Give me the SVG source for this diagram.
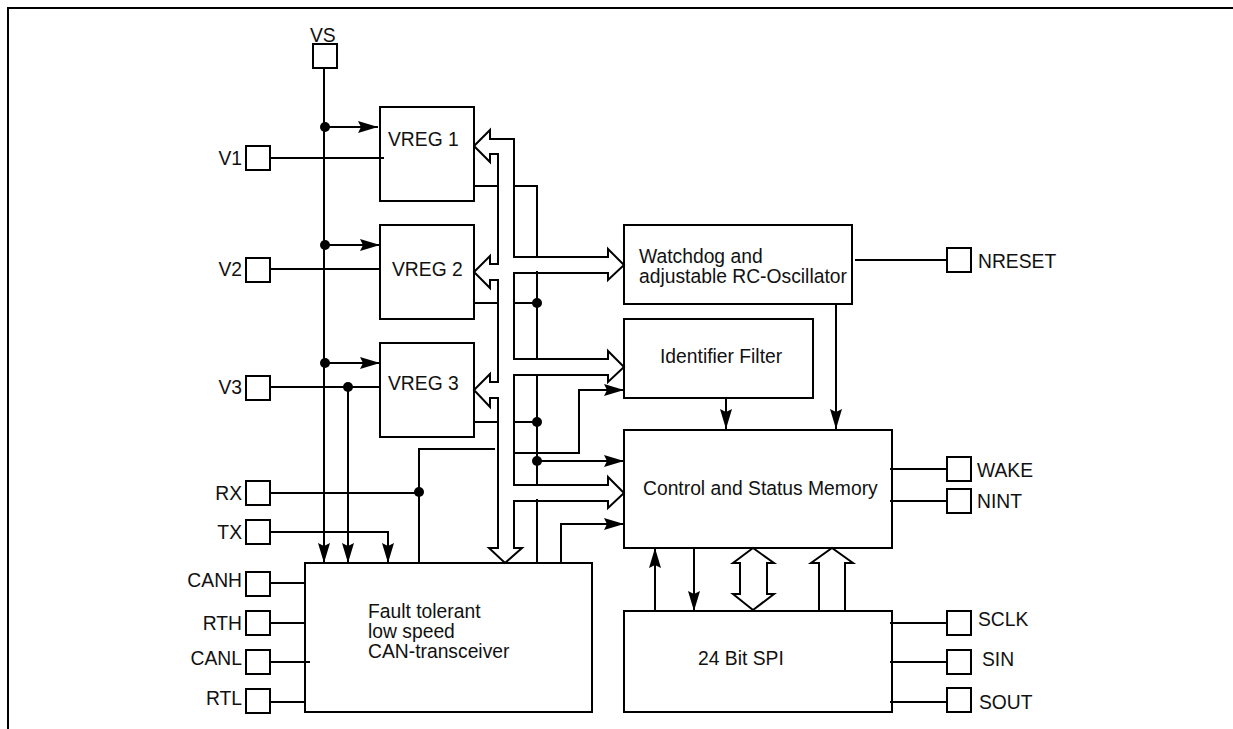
<svg xmlns="http://www.w3.org/2000/svg" width="1233" height="729" viewBox="0 0 1233 729">
<style>
text{font-family:"Liberation Sans",Arial,sans-serif;font-size:19.3px;fill:#111}
.b{fill:none;stroke:#000;stroke-width:2}
.d{fill:#000}
.e{text-anchor:end}
</style>
<defs><marker id="a" markerWidth="20" markerHeight="12" refX="20" refY="6" orient="auto" markerUnits="userSpaceOnUse"><path d="M0 0L20 6L0 12L3 6Z" fill="#000"/></marker></defs>
<rect width="1233" height="729" fill="#fff"/>
<path id="frame" class="b" d="M8 729V8H1233"/>
<g id="connectors">
<path class="b" d="M324 68V545M270 158H384M270 269H380M270 387H380M348 387V545M270 493H419M419 563V449H495M270 532H388V545M270 583H305M270 623H305M270 662H310M270 702H305"/>
<path class="b" d="M474 186H498M474 303H498M474 422H498M514 186H537V257M537 271V359M514 303H537M537 375V485M514 422H537M514 453H579V390H605M537 499V563M561 563V524H605M855 260H946M890 469H946M890 501H946M890 623H946M890 662H946M890 702H946"/>
<path class="b" d="M474 146L490 130V139H514V257H608V249L624 265L608 280V273H513"/>
<path class="b" d="M474 146L490 162V154H498V264H490V256L474 272L490 288V280H498V382H490V374L474 390L490 407V398H498V548H489L505 563L522 548H514V501H608V508L624 493L608 477V485H514V375H608V382L624 367L608 351V359H514V273"/>
<path class="b" d="M753 548L733 563H740V594H733L753 610L774 594H767V563H774ZM819 611V563H811L832 548L853 563H845V611"/>
<path class="b" marker-end="url(#a)" d="M325 127H378"/><path class="b" marker-end="url(#a)" d="M325 245H380"/><path class="b" marker-end="url(#a)" d="M325 363H380"/>
<path class="b" marker-end="url(#a)" d="M324 500V563"/><path class="b" marker-end="url(#a)" d="M348 500V563"/><path class="b" marker-end="url(#a)" d="M388 535V563"/>
<path class="b" marker-end="url(#a)" d="M579 390H624"/><path class="b" marker-end="url(#a)" d="M537 461H624"/><path class="b" marker-end="url(#a)" d="M561 524H624"/>
<path class="b" marker-end="url(#a)" d="M726 398V429"/><path class="b" marker-end="url(#a)" d="M836 304V429"/><path class="b" marker-end="url(#a)" d="M655 611V548"/><path class="b" marker-end="url(#a)" d="M694 548V611"/>
<circle class="d" cx="325" cy="127" r="5"/><circle class="d" cx="325" cy="245" r="5"/><circle class="d" cx="325" cy="363" r="5"/><circle class="d" cx="348" cy="387" r="5"/><circle class="d" cx="419" cy="492" r="5"/><circle class="d" cx="537" cy="303" r="5"/><circle class="d" cx="537" cy="422" r="5"/><circle class="d" cx="537" cy="461" r="5"/>
</g>
<g id="vreg1"><rect class="b" x="380" y="107" width="94" height="94"/><text x="388" y="146">VREG 1</text></g>
<g id="vreg2"><rect class="b" x="380" y="225" width="94" height="94"/><text x="392" y="276">VREG 2</text></g>
<g id="vreg3"><rect class="b" x="380" y="343" width="94" height="94"/><text x="388" y="390">VREG 3</text></g>
<g id="watchdog"><rect class="b" x="624" y="225" width="228" height="79"/><text x="639" y="263">Watchdog and</text><text x="639" y="283">adjustable RC-Oscillator</text></g>
<g id="identifier"><rect class="b" x="624" y="319" width="189" height="79"/><text x="660" y="363">Identifier Filter</text></g>
<g id="control"><rect class="b" x="624" y="430" width="268" height="118"/><text x="643" y="495">Control and Status Memory</text></g>
<g id="spi"><rect class="b" x="624" y="611" width="268" height="101"/><text x="698" y="665">24 Bit SPI</text></g>
<g id="can"><rect class="b" x="305" y="563" width="287" height="149"/><text x="368" y="618">Fault tolerant</text><text x="368" y="638">low speed</text><text x="368" y="658">CAN-transceiver</text></g>
<g id="vs"><rect class="b" x="313" y="44" width="24" height="24"/><text x="310" y="42">VS</text></g>
<g id="v1"><rect class="b" x="246" y="146" width="24" height="24"/><text class="e" x="242" y="165">V1</text></g>
<g id="v2"><rect class="b" x="246" y="258" width="24" height="24"/><text class="e" x="242" y="276">V2</text></g>
<g id="v3"><rect class="b" x="246" y="376" width="24" height="24"/><text class="e" x="242" y="394">V3</text></g>
<g id="rx"><rect class="b" x="246" y="481" width="24" height="24"/><text class="e" x="242" y="500">RX</text></g>
<g id="tx"><rect class="b" x="246" y="520" width="24" height="24"/><text class="e" x="242" y="539">TX</text></g>
<g id="canh"><rect class="b" x="246" y="572" width="24" height="24"/><text class="e" x="242" y="587">CANH</text></g>
<g id="rth"><rect class="b" x="246" y="611" width="24" height="24"/><text class="e" x="242" y="630">RTH</text></g>
<g id="canl"><rect class="b" x="246" y="650" width="24" height="24"/><text class="e" x="242" y="665">CANL</text></g>
<g id="rtl"><rect class="b" x="246" y="689" width="24" height="24"/><text class="e" x="242" y="705">RTL</text></g>
<g id="nreset"><rect class="b" x="947" y="248" width="24" height="24"/><text x="978" y="268">NRESET</text></g>
<g id="wake"><rect class="b" x="947" y="457" width="24" height="24"/><text x="977" y="477">WAKE</text></g>
<g id="nint"><rect class="b" x="947" y="489" width="24" height="24"/><text x="977" y="508">NINT</text></g>
<g id="sclk"><rect class="b" x="947" y="611" width="24" height="24"/><text x="978" y="626">SCLK</text></g>
<g id="sin"><rect class="b" x="947" y="650" width="24" height="24"/><text x="982" y="666">SIN</text></g>
<g id="sout"><rect class="b" x="947" y="688" width="24" height="24"/><text x="979" y="709">SOUT</text></g>
</svg>
